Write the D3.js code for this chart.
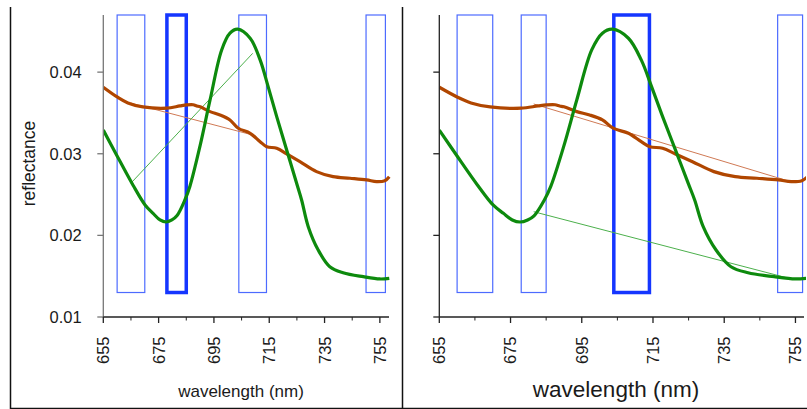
<!DOCTYPE html>
<html>
<head>
<meta charset="utf-8">
<script src="https://cdn.jsdelivr.net/npm/d3@7"></script>
<style>
  body { margin: 0; background: #fff; }
  text { font-family: "Liberation Sans", Arial, sans-serif; fill: #1a1a1a; }
</style>
</head>
<body>
<svg id="chart" width="807" height="409"></svg>
<script>
// Green spectrum (wavelength nm, reflectance)
var greenWl  = [655, 659.8, 665.7, 670.1, 673, 675.5, 677.7, 679.8, 681.6, 684.5, 686.3, 690, 693.6, 697.8, 700.8, 703.6, 708.1, 711.7, 714.6, 717.7, 721.3, 724.9, 726.7, 729.1, 732.7, 736.9, 741.7, 749, 755, 758.4];
var greenVal = [0.0329, 0.02985, 0.02618, 0.02373, 0.0227, 0.02189, 0.02164, 0.02189, 0.02240, 0.02434, 0.02600, 0.03100, 0.03659, 0.04272, 0.04477, 0.04526, 0.04415, 0.04150, 0.03822, 0.03455, 0.03047, 0.02638, 0.02434, 0.02107, 0.01821, 0.01616, 0.01543, 0.01494, 0.01466, 0.01474];

// Orange spectrum
var orangeWl  = [655, 660, 663.9, 669.3, 677.9, 682.7, 685.1, 687.5, 688.8, 690, 693.6, 697.2, 700.8, 703.8, 708.1, 711.7, 714.1, 717.7, 721.3, 726.1, 732.1, 738.1, 744.2, 750.2, 753.8, 756.8, 758.4];
var orangeVal = [0.03815, 0.03696, 0.03623, 0.03574, 0.03558, 0.03586, 0.03598, 0.03600, 0.03585, 0.03575, 0.03516, 0.03475, 0.03414, 0.03313, 0.03251, 0.03148, 0.03087, 0.03067, 0.02998, 0.02903, 0.02781, 0.02719, 0.02700, 0.02679, 0.02658, 0.02670, 0.02719];

// band windows (nm)
var bandStart = [660, 678, 704, 750];
var bandEnd   = [670, 685, 714, 757];
var boxTop = 0.047, boxBottom = 0.013;

// continuum lines between flanking band centres
var leftBaseWl     = [665, 709];
var leftBaseGreen  = [0.0264, 0.0423];
var leftBaseOrange = [0.0362, 0.0323];
var rightBaseWl     = [681.5, 753.5];
var rightBaseGreen  = [0.0229, 0.0147];
var rightBaseOrange = [0.0361, 0.0266];

var majorTicks = [655, 675, 695, 715, 735, 755];
var minorTicks = [665, 685, 705, 725, 745];
var yTicks = [0.01, 0.02, 0.03, 0.04];

var svg = d3.select("#chart");

// outer frame
svg.append("path")
   .attr("d", "M10.5,7V408.5H807M402.5,7V408.5")
   .attr("fill", "none")
   .attr("stroke", "#111")
   .attr("stroke-width", 1.5);

var y = d3.scaleLinear().domain([0.01, 0.047]).range([317, 15]);

var panels = [
  { x0: 103.3, x1: 389, wlMax: 758.3, thick: 1, showY: true, labelX: 241, labelSize: 17, yColor: "#777",
    baseWl: leftBaseWl, baseG: leftBaseGreen, baseO: leftBaseOrange },
  { x0: 439.3, x1: 804, wlMax: 757.4, thick: 2, showY: false, labelX: 616, labelSize: 22.5, yColor: "#222",
    baseWl: rightBaseWl, baseG: rightBaseGreen, baseO: rightBaseOrange }
];

panels.forEach(function(p, i) {
    var x = d3.scaleLinear().domain([655, p.wlMax]).range([p.x0, p.x1]);
    var g = svg.append("g");

    g.append("clipPath").attr("id", "clip" + i)
     .append("rect").attr("x", p.x0).attr("y", 0).attr("width", p.x1 - p.x0 + 2).attr("height", 317);

    // band boxes
    g.selectAll(".box")
     .data(bandStart.map(function(s, k) { return { s: s, e: bandEnd[k], k: k }; }))
     .enter().append("rect")
     .attr("x", d => x(d.s))
     .attr("y", y(boxTop))
     .attr("width", d => x(d.e) - x(d.s))
     .attr("height", y(boxBottom) - y(boxTop))
     .attr("fill", "none")
     .attr("stroke", d => d.k === p.thick ? "#1536ff" : "#4d6bff")
     .attr("stroke-width", d => d.k === p.thick ? 3.5 : 1.2);

    var plot = g.append("g").attr("clip-path", "url(#clip" + i + ")");

    var line = d3.line().x(d => x(d[0])).y(d => y(d[1])).curve(d3.curveCatmullRom);

    // continuum lines
    plot.append("path")
        .attr("d", d3.line()(p.baseWl.map((w, k) => [x(w), y(p.baseO[k])])))
        .attr("stroke", "#d07a55").attr("stroke-width", 1).attr("fill", "none");
    plot.append("path")
        .attr("d", d3.line()(p.baseWl.map((w, k) => [x(w), y(p.baseG[k])])))
        .attr("stroke", "#4cb04c").attr("stroke-width", 1).attr("fill", "none");

    // spectra
    plot.append("path")
        .attr("d", line(orangeWl.map((w, k) => [w, orangeVal[k]])))
        .attr("stroke", "#b04600").attr("stroke-width", 3.2).attr("fill", "none");
    plot.append("path")
        .attr("d", line(greenWl.map((w, k) => [w, greenVal[k]])))
        .attr("stroke", "#0d8a0d").attr("stroke-width", 3.2).attr("fill", "none");

    // y axis
    g.append("line")
     .attr("x1", p.x0).attr("x2", p.x0).attr("y1", y(boxTop)).attr("y2", 317)
     .attr("stroke", p.yColor).attr("stroke-width", 1.3);
    g.selectAll(".ytick").data(yTicks).enter().append("line")
     .attr("x1", p.x0 - 6).attr("x2", p.x0)
     .attr("y1", d => y(d)).attr("y2", d => y(d))
     .attr("stroke", p.yColor).attr("stroke-width", 1.3);
    if (p.showY) {
        g.selectAll(".ylab").data(yTicks).enter().append("text")
         .attr("x", p.x0 - 21.6).attr("y", d => y(d))
         .attr("dy", "0.36em")
         .attr("text-anchor", "end")
         .style("font-size", "16.5px")
         .text(d => d3.format(".2f")(d));
        svg.append("text")
           .attr("transform", "translate(35,163.5) rotate(-90)")
           .attr("text-anchor", "middle")
           .style("font-size", "17.5px")
           .text("reflectance");
    }

    // x axis
    g.append("line")
     .attr("x1", p.x0).attr("x2", p.x1).attr("y1", 317).attr("y2", 317)
     .attr("stroke", "#222").attr("stroke-width", 1.3);
    g.selectAll(".xmaj").data(majorTicks).enter().append("line")
     .attr("x1", d => x(d)).attr("x2", d => x(d)).attr("y1", 317).attr("y2", 323)
     .attr("stroke", "#222").attr("stroke-width", 1.3);
    g.selectAll(".xmin").data(minorTicks).enter().append("line")
     .attr("x1", d => x(d)).attr("x2", d => x(d)).attr("y1", 317).attr("y2", 320.5)
     .attr("stroke", "#222").attr("stroke-width", 1);
    g.selectAll(".xlab").data(majorTicks).enter().append("text")
     .attr("transform", d => "translate(" + x(d) + ",336.5) rotate(-90)")
     .attr("dy", "0.36em")
     .attr("text-anchor", "end")
     .style("font-size", "16.5px")
     .text(d => d);

    svg.append("text")
       .attr("x", p.labelX).attr("y", 397)
       .attr("text-anchor", "middle")
       .style("font-size", p.labelSize + "px")
       .text("wavelength (nm)");
});
</script>
</body>
</html>
